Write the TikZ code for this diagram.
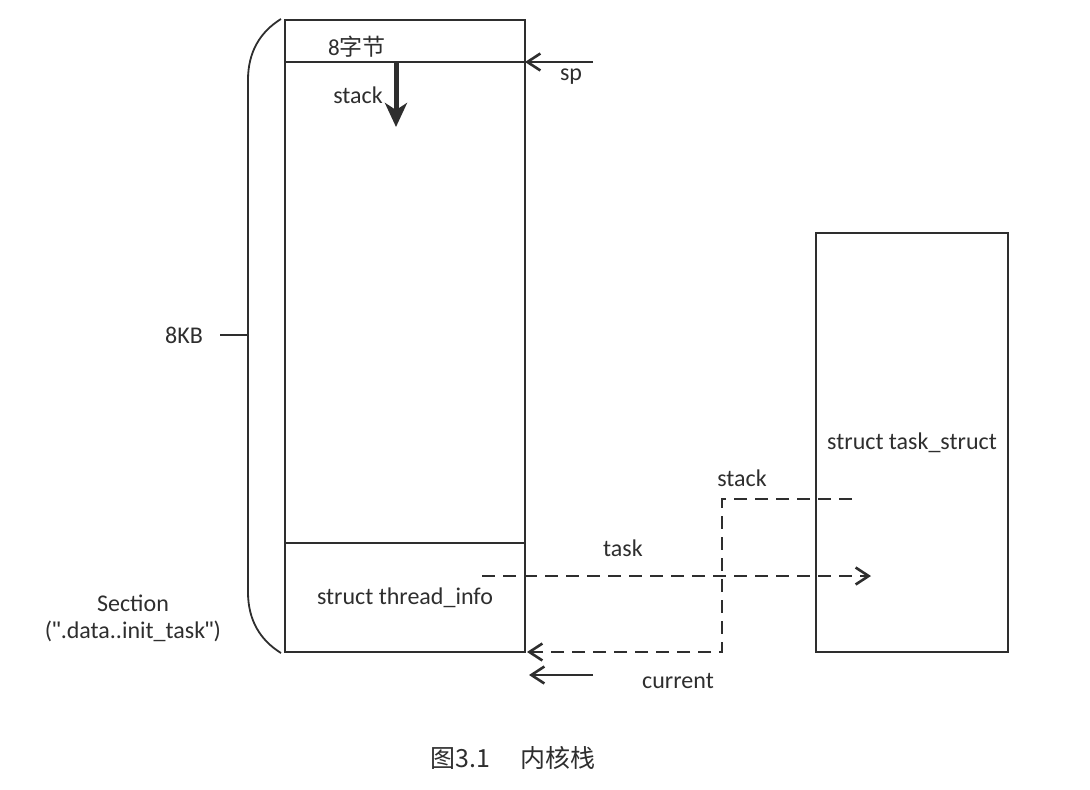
\documentclass[tikz,border=0pt]{standalone}
\usepackage{fontspec}
\setmainfont{Carlito}
\newfontfamily\cjk{Noto Sans CJK SC}
\newfontfamily\qf{Liberation Sans}
\newcommand{\sq}{{\qf\char34}}
\usetikzlibrary{arrows.meta}
\definecolor{ink}{HTML}{2E2E2E}
\tikzset{
  box/.style={draw=ink, line width=1.8pt, minimum width=0pt, inner sep=0pt},
  lbl/.style={text=ink, inner sep=0pt, font=\fontsize{24}{28}\selectfont},
  ptr/.style={draw=ink, line width=1.8pt, -{Straight Barb[length=13pt,width=17pt,line width=2.6pt]}},
  dptr/.style={ptr, dash pattern=on 13pt off 8pt},
}
\begin{document}
\begin{tikzpicture}[x=1pt,y=-1pt]
\useasboundingbox (0,0) rectangle (1090,790);
% main stack box
\node[box, minimum width=240pt, minimum height=632pt] (kstack) at (405,336) {};
\coordinate (d1l) at (285,62); \coordinate (d1r) at (525,62);
\draw[ink, line width=1.8pt] (d1l) -- (d1r);
\coordinate (d2l) at (285,543); \coordinate (d2r) at (525,543);
\draw[ink, line width=1.8pt] (d2l) -- (d2r);
% task_struct box
\node[box, minimum width=192pt, minimum height=419pt] (tsk) at (912,442.5) {};
% labels
\node[lbl, font=\fontsize{23}{27}\selectfont] (eight) at (357,47) {8{\cjk 字节}};
\node[lbl] (sp) at (571,77) {sp};
\node[lbl] (stk1) at (358,95) {stack};
\node[lbl] (ti) at (405,598) {struct thread\_info};
\node[lbl] (ts) at (912,443) {struct task\_struct};
\node[lbl] (taskl) at (623,548) {task};
\node[lbl] (stk2) at (742,478) {stack};
\node[lbl] (cur) at (678,681) {current};
\node[lbl] (kb) at (184,335) {8KB};
\node[lbl, align=center] (sec) at (133,618) {Section\\[-1pt](\sq.data..init\_task\sq)};
\node[text=ink, inner sep=0pt, font=\cjk\fontsize{25}{29}\selectfont] (cap) at (513,758) {图3.1\hspace{1.2em}内核栈};
% sp arrow
\coordinate (spstart) at (593,62);
\draw[ptr] (spstart) -- (d1r);
% thick stack growth arrow
\coordinate (gs) at (396,62); \coordinate (ge) at (396,127);
\draw[draw=ink, line width=5pt, -{Stealth[length=24pt,width=22pt,inset=7pt]}] (gs) -- (ge);
% brace
\coordinate (btop) at (281,19); \coordinate (bbot) at (281,653);
\coordinate (bmid) at (248,335); \coordinate (btick) at (220,335);
\draw[ink, line width=1.8pt] (btop) .. controls (260,32) and (248,52) .. (248,80) -- (248,592) .. controls (248,620) and (260,640) .. (bbot);
\draw[ink, line width=1.8pt] (btick) -- (bmid);
% task dashed pointer
\coordinate (tst) at (482,576); \coordinate (ten) at (871,576);
\draw[dptr] (tst) -- (ten);
% stack dashed pointer
\coordinate (s0) at (852,499); \coordinate (s1) at (722,499); \coordinate (s2) at (722,652);
\coordinate (s3) at (527,652);
\draw[dptr] (s0) -- (s1) -- (s2) -- (s3);
% current arrow
\coordinate (c0) at (593,675); \coordinate (c1) at (529,675);
\draw[ptr] (c0) -- (c1);
\end{tikzpicture}
\end{document}
